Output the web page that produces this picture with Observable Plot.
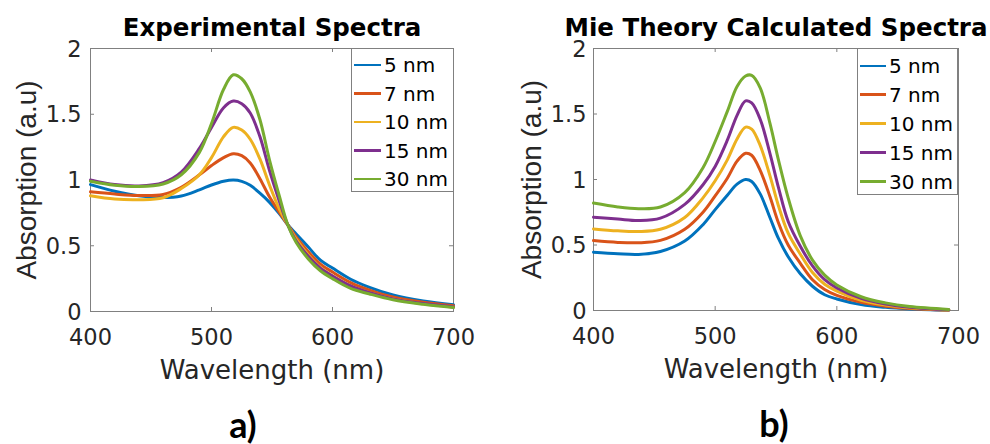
<!DOCTYPE html>
<html>
<head>
<meta charset="utf-8">
<script src="https://cdn.jsdelivr.net/npm/d3@7"></script>
<script src="https://cdn.jsdelivr.net/npm/@observablehq/plot@0.6"></script>
<style>
  html, body { margin: 0; padding: 0; background: #fff; }
  #root { position: relative; width: 990px; height: 444px; overflow: hidden; }
  .panel { position: absolute; top: 0; width: 495px; height: 444px; }
  .legend { position: absolute; box-sizing: border-box; border: 1px solid #808080; background: #fff; }
  .row { position: absolute; left: 0; height: 28px; display: flex; align-items: center; }
  .sw { width: 27px; height: 2.5px; margin-left: 2px; }
  .lab { margin-left: 3px; font: 20px "DejaVu Sans"; color: #000; white-space: nowrap; line-height: 28px; }
</style>
</head>
<body>
<div id="root"></div>
<script>
// ---- data ----
const sizes = ["5 nm", "7 nm", "10 nm", "15 nm", "30 nm"];
const colors = ["#0072BD", "#D95319", "#EDB120", "#7E2F8E", "#77AC30"];
const xTicks = [400, 500, 600, 700];
const yTicks = [0, 0.5, 1, 1.5, 2];
const yTickLabels = ["0", "0.5", "1", "1.5", "2"];

// Experimental spectra (panel a)
const wlExp = [400, 420, 440, 460, 475, 490, 500, 510, 518, 525, 532, 540, 548, 556, 563, 570, 580, 590, 600, 615, 630, 650, 675, 700];
const exp5  = [0.965, 0.915, 0.88, 0.866, 0.878, 0.925, 0.962, 0.99, 1.0, 0.99, 0.96, 0.90, 0.83, 0.745, 0.66, 0.59, 0.49, 0.39, 0.33, 0.245, 0.185, 0.125, 0.08, 0.052];
const exp7  = [0.91, 0.893, 0.882, 0.89, 0.945, 1.04, 1.11, 1.17, 1.20, 1.185, 1.13, 1.01, 0.87, 0.755, 0.66, 0.565, 0.455, 0.36, 0.30, 0.22, 0.165, 0.11, 0.07, 0.043];
const exp10 = [0.88, 0.855, 0.85, 0.865, 0.935, 1.04, 1.17, 1.33, 1.40, 1.38, 1.31, 1.16, 0.96, 0.78, 0.66, 0.55, 0.43, 0.335, 0.27, 0.195, 0.145, 0.095, 0.058, 0.033];
const exp15 = [1.0, 0.965, 0.955, 0.98, 1.06, 1.24, 1.40, 1.55, 1.60, 1.58, 1.51, 1.33, 1.07, 0.84, 0.66, 0.535, 0.42, 0.33, 0.27, 0.195, 0.145, 0.096, 0.06, 0.035];
const exp30 = [0.99, 0.96, 0.95, 0.97, 1.04, 1.21, 1.43, 1.69, 1.80, 1.77, 1.67, 1.46, 1.15, 0.88, 0.66, 0.525, 0.40, 0.31, 0.25, 0.175, 0.135, 0.089, 0.055, 0.03];

// Mie theory calculated spectra (panel b)
const wlMie = [400, 420, 437, 455, 475, 490, 500, 510, 518, 525, 530, 537, 545, 552, 560, 570, 580, 590, 600, 620, 640, 660, 692];
const mie5  = [0.445, 0.433, 0.428, 0.45, 0.53, 0.655, 0.77, 0.88, 0.965, 1.0, 0.985, 0.89, 0.71, 0.55, 0.41, 0.28, 0.185, 0.12, 0.088, 0.045, 0.024, 0.012, 0.002];
const mie7  = [0.534, 0.52, 0.517, 0.535, 0.62, 0.75, 0.875, 1.01, 1.14, 1.20, 1.185, 1.07, 0.87, 0.67, 0.50, 0.36, 0.235, 0.16, 0.115, 0.062, 0.033, 0.016, 0.003];
const mie10 = [0.623, 0.608, 0.603, 0.62, 0.71, 0.86, 0.99, 1.15, 1.31, 1.40, 1.385, 1.26, 1.03, 0.80, 0.59, 0.43, 0.29, 0.20, 0.148, 0.078, 0.042, 0.021, 0.004];
const mie15 = [0.712, 0.698, 0.687, 0.705, 0.81, 0.96, 1.10, 1.30, 1.49, 1.60, 1.585, 1.46, 1.20, 0.94, 0.68, 0.49, 0.34, 0.235, 0.172, 0.092, 0.049, 0.025, 0.005];
const mie30 = [0.82, 0.79, 0.777, 0.79, 0.90, 1.09, 1.29, 1.52, 1.71, 1.79, 1.795, 1.70, 1.43, 1.15, 0.86, 0.57, 0.385, 0.27, 0.195, 0.105, 0.058, 0.03, 0.008];

// ---- build ----
function tidy(wl, series) {
  const out = [];
  series.forEach((vals, i) => vals.forEach((a, j) => out.push({wl: wl[j], a, size: sizes[i]})));
  return out;
}

function panel(cfg) {
  const {data, title, tag, ml, mr, mb, tagDx, ylDx, ytDx} = cfg;
  const H = 444, mt = 48;
  const ph = H - mt - mb;
  const pw = 495 - ml - mr;
  const ink = "#262626";
  return Plot.plot({
    width: 495, height: H,
    marginLeft: ml, marginRight: mr, marginTop: mt, marginBottom: mb,
    x: {domain: [400, 700], axis: null},
    y: {domain: [0, 2], axis: null},
    color: {domain: sizes, range: colors},
    style: {background: "transparent", overflow: "visible", fontFamily: "DejaVu Sans"},
    marks: [
      Plot.frame({stroke: "#808080", strokeWidth: 1}),
      Plot.ruleX(xTicks, {x: d => d, insetTop: ph - 4, stroke: "#808080"}),
      Plot.ruleX(xTicks, {x: d => d, insetBottom: ph - 4, stroke: "#808080"}),
      Plot.ruleY(yTicks, {y: d => d, insetRight: pw - 4, stroke: "#808080"}),
      Plot.ruleY(yTicks, {y: d => d, insetLeft: pw - 4, stroke: "#808080"}),
      Plot.line(data, {x: "wl", y: "a", z: "size", stroke: "size", strokeWidth: 3, curve: "catmull-rom"}),
      Plot.text(xTicks, {x: d => d, text: d => String(d), frameAnchor: "bottom", lineAnchor: "bottom", dy: 33, fontSize: 22.5, fill: ink}),
      Plot.text(yTicks, {y: d => d, text: (d, i) => yTickLabels[i], frameAnchor: "left", textAnchor: "end", lineAnchor: "middle", dx: ytDx, dy: 1, fontSize: 22.5, fill: ink}),
      Plot.text(["Wavelength (nm)"], {frameAnchor: "bottom", lineAnchor: "bottom", dy: 67, fontSize: 26, fill: ink}),
      Plot.text(["Absorption (a.u)"], {frameAnchor: "left", textAnchor: "middle", lineAnchor: "middle", rotate: -90, dx: ylDx, fontSize: 28, fontFamily: "Liberation Sans", fill: ink}),
      Plot.text([title], {frameAnchor: "top", lineAnchor: "bottom", dy: -13, fontSize: 24.5, fontWeight: "bold", fill: "#000"}),
      Plot.text([tag], {frameAnchor: "bottom", lineAnchor: "bottom", dy: 126, dx: tagDx, fontSize: 36, fontWeight: "bold", fontFamily: "Lato", fill: "#000"})
    ]
  });
}

function legend(parent, box, rowYs, lineW) {
  const lg = document.createElement("div");
  lg.className = "legend";
  lg.style.left = box.left + "px"; lg.style.top = box.top + "px";
  lg.style.width = box.width + "px"; lg.style.height = box.height + "px";
  sizes.forEach((s, i) => {
    const r = document.createElement("div");
    r.className = "row";
    r.style.top = (rowYs[i] - box.top - 14) + "px";
    const sw = document.createElement("div");
    sw.className = "sw"; sw.style.background = colors[i]; sw.style.width = lineW + "px";
    const t = document.createElement("span");
    t.className = "lab"; t.textContent = s;
    r.appendChild(sw); r.appendChild(t);
    lg.appendChild(r);
  });
  parent.appendChild(lg);
}

const root = document.getElementById("root");
const pa = document.createElement("div"); pa.className = "panel"; pa.style.left = "0px";
const pb = document.createElement("div"); pb.className = "panel"; pb.style.left = "495px";
root.appendChild(pa); root.appendChild(pb);

pa.appendChild(panel({
  data: tidy(wlExp, [exp5, exp7, exp10, exp15, exp30]),
  title: "Experimental Spectra", tag: "a)",
  ml: 90, mr: 42, mb: 133, tagDx: -29, ylDx: -63, ytDx: -9
}));
pb.appendChild(panel({
  data: tidy(wlMie, [mie5, mie7, mie10, mie15, mie30]),
  title: "Mie Theory Calculated Spectra", tag: "b)",
  ml: 98, mr: 32, mb: 134, tagDx: -2, ylDx: -61, ytDx: -7
}));

legend(pa, {left: 351, top: 48, width: 103, height: 144}, [64, 92.5, 121, 149.5, 178], 27);
legend(pb, {left: 362, top: 48, width: 101, height: 147}, [65, 93.5, 122.5, 151.5, 180.5], 26);
</script>
</body>
</html>
